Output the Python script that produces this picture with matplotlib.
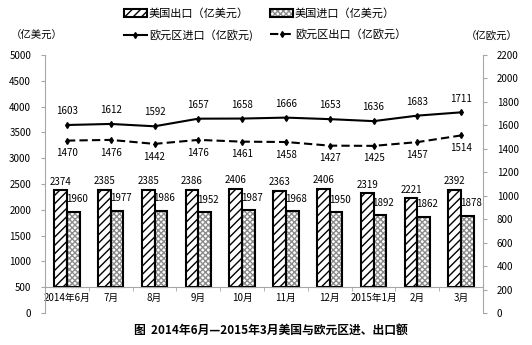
import numpy as np
import matplotlib.pyplot as plt
from matplotlib.ticker import FixedLocator

plt.rcParams['font.family'] = ['Noto Sans CJK SC', 'DejaVu Sans']
plt.rcParams['hatch.linewidth'] = 1.0

# --- data ---
months = ['2014年6月', '7月', '8月', '9月', '10月', '11月', '12月', '2015年1月', '2月', '3月']
us_export = [2374, 2385, 2385, 2386, 2406, 2363, 2406, 2319, 2221, 2392]
us_import = [1960, 1977, 1986, 1952, 1987, 1968, 1950, 1892, 1862, 1878]
eu_import = [1603, 1612, 1592, 1657, 1658, 1666, 1653, 1636, 1683, 1711]
eu_export = [1470, 1476, 1442, 1476, 1461, 1458, 1427, 1425, 1457, 1514]

x = np.arange(len(months))
w = 0.29
base = 500
gray = '#a6a6a6'

fig = plt.figure(figsize=(5.32, 3.45), dpi=100)
ax = fig.add_axes([0.0846, 0.0928, 0.8234, 0.7478])
ax2 = ax.twinx()

# --- bars (left axis, crossing at 500) ---
b1 = ax.bar(x - w / 2, np.array(us_export) - base, w, bottom=base,
            facecolor='white', edgecolor='black', linewidth=1.5, hatch='////')
# grey checker pattern, then black outline on top
b2h = ax.bar(x + w / 2, np.array(us_import) - base, w, bottom=base,
             facecolor='white', edgecolor='#8c8c8c', linewidth=0, hatch='xxxxxx')
b2 = ax.bar(x + w / 2, np.array(us_import) - base, w, bottom=base,
            facecolor='none', edgecolor='black', linewidth=1.5)
for i in range(len(x)):
    ax.text(x[i] - w / 2, us_export[i] + 70, str(us_export[i]),
            ha='center', va='bottom', fontsize=7)
    ax.text(x[i] + w / 2 + 0.08, us_import[i] + 150, str(us_import[i]),
            ha='center', va='bottom', fontsize=7)

ax.set_xlim(-0.5, len(x) - 0.5)
ax.set_ylim(0, 5000)
ax.set_yticks(np.arange(0, 5001, 500))
ax.spines['top'].set_visible(False)
ax.spines['right'].set_visible(False)
ax.spines['left'].set_color(gray)
ax.spines['bottom'].set_position(('data', base))
ax.spines['bottom'].set_color(gray)
ax.set_xticks(x)
ax.set_xticklabels(months)
ax.xaxis.set_minor_locator(FixedLocator(np.arange(-0.5, len(x), 1.0)))
ax.tick_params(axis='x', which='major', length=0, labelsize=7, pad=4)
ax.tick_params(axis='x', which='minor', length=3, color=gray)
ax.tick_params(axis='y', length=3, color=gray, labelsize=7, pad=7)

# --- lines (right axis) ---
l1, = ax2.plot(x, eu_import, color='black', lw=1.5, marker='d', ms=3)
l2, = ax2.plot(x, eu_export, color='black', lw=1.5, ls=(0, (4, 2)), marker='d', ms=3)
for i in range(len(x)):
    ax2.text(x[i], eu_import[i] + 75, str(eu_import[i]),
             ha='center', va='bottom', fontsize=7)
    ax2.text(x[i], eu_export[i] - 65, str(eu_export[i]),
             ha='center', va='top', fontsize=7)

ax2.set_ylim(0, 2200)
ax2.set_yticks(np.arange(0, 2201, 200))
for s in ['top', 'left', 'bottom']:
    ax2.spines[s].set_visible(False)
ax2.spines['right'].set_color(gray)
ax2.tick_params(axis='y', length=3, color=gray, labelsize=7, pad=7)

# --- legend / labels ---
fig.legend([b1[0], l1, (b2h[0], b2[0]), l2],
           ['美国出口（亿美元）', '欧元区进口（亿欧元)', '美国进口（亿美元）', '欧元区出口（亿欧元）'],
           ncol=2, frameon=False, fontsize=8, loc='upper left',
           bbox_to_anchor=(0.215, 1.005), handlelength=2.0, handletextpad=0.2,
           columnspacing=1.6, labelspacing=0.9)

fig.text(0.02, 0.895, '（亿美元）', fontsize=7.5, ha='left', va='center')
fig.text(0.875, 0.893, '（亿欧元）', fontsize=7.5, ha='left', va='center')
fig.text(0.51, 0.042, '图  2014年6月—2015年3月美国与欧元区进、出口额',
         fontsize=8.5, fontweight='bold', ha='center', va='center')

fig.savefig('out.png', dpi=100)
